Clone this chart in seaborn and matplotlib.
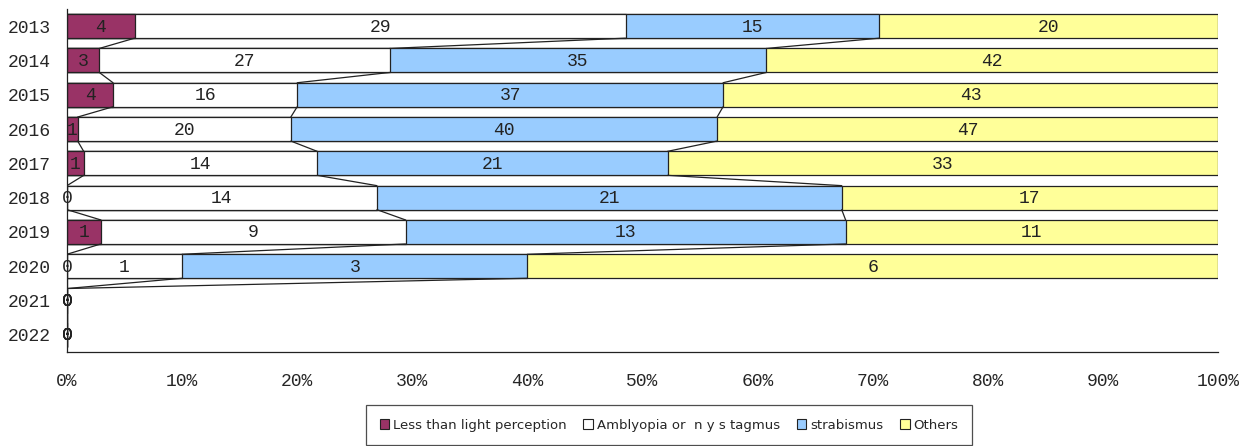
import matplotlib
matplotlib.use('Agg')
import matplotlib.pyplot as plt
from matplotlib.patches import Patch
import numpy as np
import pandas as pd
import seaborn as sns

# data
years = ['2013', '2014', '2015', '2016', '2017', '2018', '2019', '2020', '2021', '2022']
less_light = [4, 3, 4, 1, 1, 0, 1, 0, 0, 0]
amblyopia = [29, 27, 16, 20, 14, 14, 9, 1, 0, 0]
strabismus = [15, 35, 37, 40, 21, 21, 13, 3, 0, 0]
others = [20, 42, 43, 47, 33, 17, 11, 6, 0, 0]
series_names = ['Less than light perception', 'Amblyopia or  n y s tagmus', 'strabismus', 'Others']
colors = ['#993366', '#FFFFFF', '#99CCFF', '#FFFF99']

sns.set_style('white')
plt.rcParams['font.family'] = ['Liberation Mono', 'DejaVu Sans Mono']

counts = np.array([less_light, amblyopia, strabismus, others], dtype=float)
totals = counts.sum(axis=0)
with np.errstate(invalid='ignore', divide='ignore'):
    pct = np.where(totals > 0, counts / totals * 100, 0.0)
cum = np.cumsum(pct, axis=0)
starts = cum - pct

fig = plt.figure(figsize=(12.54, 4.46), dpi=100)
ax = fig.add_axes([67 / 1254, 1 - 352 / 446, 1151 / 1254, 343 / 446])

w = 0.7
# draw cumulative bars from the right so each covers the next
for k in range(3, -1, -1):
    df = pd.DataFrame({'year': years, 'val': cum[k]})
    sns.barplot(data=df, x='val', y='year', orient='h', order=years, color=colors[k],
                saturation=1, width=w, edgecolor='#222222', linewidth=0.9, ax=ax)

# series lines between bars
for k in range(3):
    for i in range(len(years) - 1):
        ax.plot([cum[k][i], cum[k][i + 1]], [i + w / 2, i + 1 - w / 2],
                color='#222222', lw=0.9, zorder=1)

# value labels
for k in range(4):
    for i in range(len(years)):
        x = starts[k][i] + pct[k][i] / 2
        ax.text(x, i + 0.03, str(int(counts[k][i])), ha='center', va='center',
                fontsize=13, color='#222222')

ax.set_xlim(0, 100)
ax.set_ylim(len(years) - 0.5, -0.5)
ax.set_xticks(np.arange(0, 101, 10))
ax.set_xticklabels([f'{v}%' for v in range(0, 101, 10)], fontsize=13)
ax.set_xlabel('')
ax.set_ylabel('')
ax.tick_params(axis='y', length=0, labelsize=13, pad=12)
ax.set_yticks(np.arange(-0.5, len(years), 1), minor=True)
ax.tick_params(axis='y', which='minor', direction='in', length=4, color='#222222')
ax.tick_params(axis='x', direction='in', length=5, color='#222222', pad=15)
for side in ['top', 'right']:
    ax.spines[side].set_visible(False)
for side in ['left', 'bottom']:
    ax.spines[side].set_color('#222222')
    ax.spines[side].set_linewidth(0.9)
ax.grid(False)

handles = [Patch(facecolor=c, edgecolor='#222222', lw=0.8, label=n) for c, n in zip(colors, series_names)]
leg = fig.legend(handles=handles, loc='lower center', bbox_to_anchor=(669 / 1254, -0.012), ncol=4,
                 prop={'family': 'DejaVu Sans', 'size': 9.5}, frameon=True, fancybox=False,
                 edgecolor='#222222', handlelength=0.7, handleheight=0.7, handletextpad=0.3,
                 columnspacing=1.3, borderpad=1.0)
leg.get_frame().set_linewidth(0.9)

fig.savefig('out.png', dpi=100)
